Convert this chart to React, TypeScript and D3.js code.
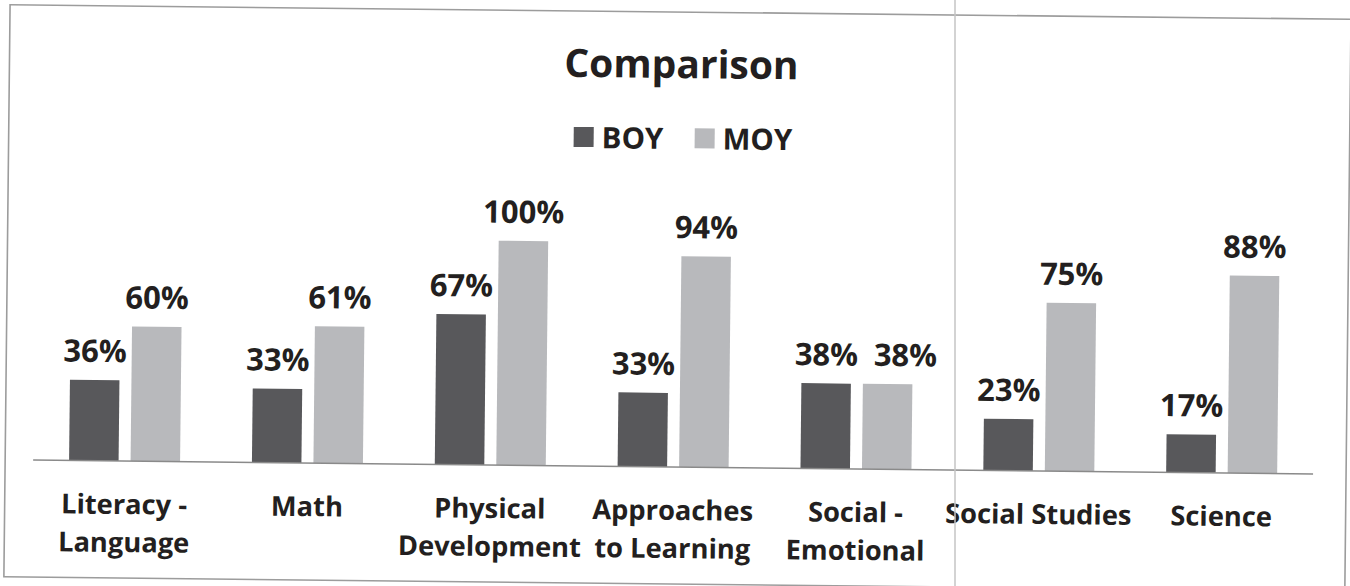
import React from "react";
import * as d3 from "d3";

const categories: string[][] = [
  ["Literacy -", "Language"],
  ["Math"],
  ["Physical", "Development"],
  ["Approaches", "to Learning"],
  ["Social -", "Emotional"],
  ["Social Studies"],
  ["Science"],
];
const boyValues = [0.36, 0.33, 0.67, 0.33, 0.38, 0.23, 0.17];
const moyValues = [0.6, 0.61, 1.0, 0.94, 0.38, 0.75, 0.88];
const boyLabels = ["36%", "33%", "67%", "33%", "38%", "23%", "17%"];
const moyLabels = ["60%", "61%", "100%", "94%", "38%", "75%", "88%"];
const seriesNames = ["BOY", "MOY"];

const W = 1350;
const H = 586;
const FONT = "'Open Sans', Lato, sans-serif";
const TEXT = "#231f20";
const BOY_COLOR = "#58585b";
const MOY_COLOR = "#b8b9bc";

export default function App() {
  const x = d3
    .scaleBand<number>()
    .domain(categories.map((_, i) => i))
    .range([35, 1315]);
  const y = d3.scaleLinear().domain([0, 1]).range([467, 242.6]);
  const barW = 49.5;
  const gap = 12;
  const labelW = 64; // approx label width for collision avoidance

  return (
    <svg
      width={W}
      height={H}
      style={{ position: "absolute", left: 0, top: 0, background: "#fff" }}
    >
      <g transform="rotate(0.62 675 293)">
        <rect
          x={7}
          y={12}
          width={1341}
          height={572}
          fill="none"
          stroke="#9c9c9c"
          strokeWidth={1.6}
        />
        <text
          x={679}
          y={78}
          textAnchor="middle"
          fontFamily={FONT}
          fontWeight={700}
          fontSize={39}
          fill={TEXT}
        >
          Comparison
        </text>
        {/* legend */}
        {seriesNames.map((s, i) => {
          const lx = i === 0 ? 572 : 693;
          return (
            <g key={s}>
              <rect
                x={lx}
                y={128}
                width={20}
                height={20}
                fill={i === 0 ? BOY_COLOR : MOY_COLOR}
              />
              <text
                x={lx + 28}
                y={149}
                fontFamily={FONT}
                fontWeight={700}
                fontSize={29.5}
                fill={TEXT}
              >
                {s}
              </text>
            </g>
          );
        })}
        {/* bars */}
        {categories.map((_, i) => {
          const c = (x(i) as number) + x.bandwidth() / 2;
          const bx = c - gap / 2 - barW;
          const mx = c + gap / 2;
          const by = y(boyValues[i]) - 18;
          const my = y(moyValues[i]) - 18;
          const bcx = bx + barW / 2;
          let mcx = mx + barW / 2;
          // nudge overlapping labels apart, as the original does
          if (Math.abs(by - my) < 30 && mcx - bcx < labelW + 15) {
            mcx = bcx + labelW + 15;
          }
          return (
            <g key={i}>
              <rect
                x={bx}
                y={y(boyValues[i])}
                width={barW}
                height={y(0) - y(boyValues[i])}
                fill={BOY_COLOR}
              />
              <rect
                x={mx}
                y={y(moyValues[i])}
                width={barW}
                height={y(0) - y(moyValues[i])}
                fill={MOY_COLOR}
              />
              <text
                x={bcx}
                y={by}
                textAnchor="middle"
                fontFamily={FONT}
                fontWeight={700}
                fontSize={31}
                fill={TEXT}
              >
                {boyLabels[i]}
              </text>
              <text
                x={mcx}
                y={my}
                textAnchor="middle"
                fontFamily={FONT}
                fontWeight={700}
                fontSize={31}
                fill={TEXT}
              >
                {moyLabels[i]}
              </text>
            </g>
          );
        })}
        {/* axis baseline */}
        <line
          x1={35}
          x2={1315}
          y1={y(0)}
          y2={y(0)}
          stroke="#8a8a8a"
          strokeWidth={1.5}
        />
        {/* category labels */}
        {categories.map((lines, i) => {
          const c = (x(i) as number) + x.bandwidth() / 2;
          return (
            <text
              key={i}
              x={c}
              textAnchor="middle"
              fontFamily={FONT}
              fontWeight={700}
              fontSize={27.3}
              fill={TEXT}
            >
              {lines.map((l, j) => (
                <tspan key={j} x={c} y={520 + j * 38}>
                  {l}
                </tspan>
              ))}
            </text>
          );
        })}
      </g>
      {/* scan fold line */}
      <line x1={955} x2={955} y1={0} y2={H} stroke="#c4c4c4" strokeWidth={1.5} />
    </svg>
  );
}
